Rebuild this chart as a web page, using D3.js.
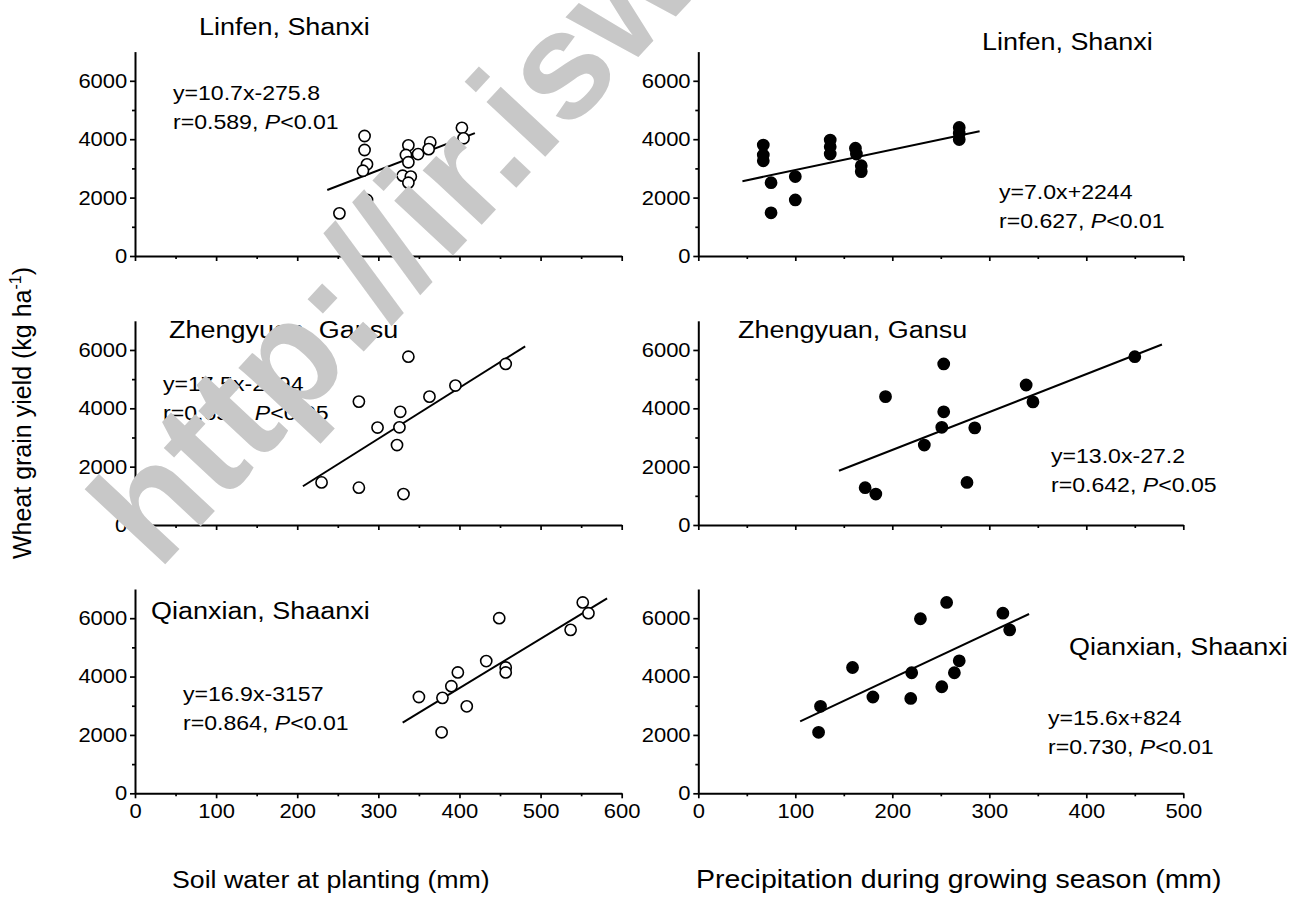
<!DOCTYPE html>
<html>
<head>
<meta charset="utf-8">
<script src="https://cdn.jsdelivr.net/npm/d3@7"></script>
<style>
  body { margin: 0; background: #fff; }
  svg { display: block; }
  text { font-family: "Liberation Sans", Arial, sans-serif; }
</style>
</head>
<body>
<svg id="chart" width="1303" height="897"></svg>
<script>
// ---- data: wheat grain yield (kg/ha) against soil water at planting and growing-season rain ----
const siteNames = ["Linfen, Shanxi", "Zhengyuan, Gansu", "Qianxian, Shaanxi"];

// Linfen, Shanxi
const linfenSoilWater = [252, 283, 283, 286, 281, 286, 337, 334, 337, 330, 340, 337, 349, 364, 362, 403, 405];
const linfenSoilYield = [1460, 4110, 3630, 3140, 2920, 1920, 3790, 3460, 3210, 2750, 2720, 2510, 3490, 3890, 3660, 4390, 4030];
const linfenRain      = [67, 67, 67, 75, 75, 100, 100, 136, 136, 136, 162, 163, 168, 168, 269, 269, 269];
const linfenRainYield = [3800, 3460, 3260, 2510, 1480, 2720, 1920, 3970, 3740, 3490, 3690, 3490, 3090, 2890, 4400, 4200, 3990];

// Zhengyuan, Gansu
const zhengSoilWater = [337, 457, 395, 363, 276, 327, 299, 326, 323, 230, 276, 331];
const zhengSoilYield = [5770, 5520, 4780, 4400, 4230, 3880, 3340, 3350, 2740, 1460, 1280, 1060];
const zhengRain      = [450, 338, 345, 253, 193, 253, 251, 285, 233, 277, 172, 183];
const zhengRainYield = [5770, 4800, 4220, 5520, 4400, 3880, 3350, 3330, 2740, 1460, 1280, 1060];

// Qianxian, Shaanxi
const qianSoilWater = [552, 559, 537, 449, 433, 457, 457, 398, 390, 350, 379, 409, 378];
const qianSoilYield = [6540, 6170, 5600, 6000, 4530, 4310, 4140, 4140, 3670, 3300, 3270, 2980, 2090];
const qianRain      = [256, 229, 314, 321, 159, 220, 269, 264, 251, 180, 219, 126, 124];
const qianRainYield = [6540, 5980, 6170, 5600, 4310, 4130, 4540, 4130, 3650, 3300, 3250, 2980, 2090];

// fitted regressions: slope, intercept, r, P label, x-extent of the drawn line
const fitSlope     = [10.7, 7.0, 17.5, 13.0, 16.9, 15.6];
const fitIntercept = [-275.8, 2244, -2294, -27.2, -3157, 824];
const fitEquation  = ["y=10.7x-275.8", "y=7.0x+2244", "y=17.5x-2294", "y=13.0x-27.2", "y=16.9x-3157", "y=15.6x+824"];
const fitR         = ["r=0.589, ", "r=0.627, ", "r=0.651, ", "r=0.642, ", "r=0.864, ", "r=0.730, "];
const fitP         = ["<0.01", "<0.01", "<0.05", "<0.05", "<0.01", "<0.01"];
const fitRange     = [[237, 419], [45.5, 290], [207, 481], [145, 478], [330, 582], [105, 341]];

// axis ticks
const soilTicks   = [0, 100, 200, 300, 400, 500, 600];
const rainTicks   = [0, 100, 200, 300, 400, 500];
const yieldTicks  = [0, 2000, 4000, 6000];
const yieldMax    = 7000;

// ---- layout ----
const SX = 1.1;                      // slight horizontal stretch of lettering
const colX = [[135, 621.7], [698.3, 1183.3]];
const rowY = [[256, 51.6], [525, 320.8], [793.3, 589]];
const titlePos = [[199, 35], [982, 50], [169, 338], [738, 338], [151, 619], [1069, 655]];
const eqPos    = [[173, 100], [999, 199], [163, 391], [1051, 463], [183, 701], [1048, 725]];

const svg = d3.select("#chart");

const panelData = [
  [linfenSoilWater, linfenSoilYield], [linfenRain, linfenRainYield],
  [zhengSoilWater, zhengSoilYield],   [zhengRain, zhengRainYield],
  [qianSoilWater, qianSoilYield],     [qianRain, qianRainYield]
];

function stretchText(sel) {
  sel.attr("transform", `scale(${SX},1)`);
}

panelData.forEach(([xs, ys], i) => {
  const row = Math.floor(i / 2), col = i % 2;
  const ticks = col === 0 ? soilTicks : rainTicks;
  const xMax = ticks[ticks.length - 1];
  const x = d3.scaleLinear().domain([0, xMax]).range(colX[col]);
  const y = d3.scaleLinear().domain([0, yieldMax]).range(rowY[row]);
  const g = svg.append("g");

  const step = ticks[1] - ticks[0];
  const xMinor = d3.range(step / 2, xMax, step);
  const yMinor = d3.range(1000, yieldMax, 2000);

  // minor ticks
  g.append("g").attr("transform", `translate(0,${rowY[row][0]})`)
    .call(d3.axisBottom(x).tickValues(xMinor).tickSize(3).tickSizeOuter(0).tickFormat(""))
    .call(a => a.select(".domain").remove());
  g.append("g").attr("transform", `translate(${colX[col][0]},0)`)
    .call(d3.axisLeft(y).tickValues(yMinor).tickSize(3).tickSizeOuter(0).tickFormat(""))
    .call(a => a.select(".domain").remove());

  // major axes
  const xAxis = g.append("g").attr("transform", `translate(0,${rowY[row][0]})`)
    .call(d3.axisBottom(x).tickValues(ticks).tickSize(5).tickPadding(6).tickSizeOuter(0)
      .tickFormat(row === 2 ? d3.format("d") : ""));
  const yAxis = g.append("g").attr("transform", `translate(${colX[col][0]},0)`)
    .call(d3.axisLeft(y).tickValues(yieldTicks).tickSize(5).tickPadding(2).tickSizeOuter(0)
      .tickFormat(d3.format("d")));

  [xAxis, yAxis].forEach(a => {
    a.selectAll("text").attr("font-size", 20).attr("fill", "#000")
      .style("font-family", '"Liberation Sans", Arial, sans-serif').call(stretchText);
    a.select(".domain").attr("stroke", "#000").attr("stroke-width", 2);
  });
  g.selectAll(".tick line").attr("stroke", "#000").attr("stroke-width", 1.7);

  // regression line
  const [x0, x1] = fitRange[i];
  g.append("path")
    .attr("d", d3.line().x(d => x(d)).y(d => y(fitSlope[i] * d + fitIntercept[i]))([x0, x1]))
    .attr("stroke", "#000").attr("stroke-width", 2).attr("fill", "none");

  // points
  g.selectAll("circle").data(xs.map((v, k) => [v, ys[k]])).join("circle")
    .attr("cx", d => x(d[0])).attr("cy", d => y(d[1])).attr("r", 5.6)
    .attr("fill", col === 0 ? "#fff" : "#000")
    .attr("stroke", "#000").attr("stroke-width", 1.6);

  // site title
  g.append("text")
    .attr("transform", `translate(${titlePos[i][0]},${titlePos[i][1]}) scale(${SX},1)`)
    .attr("font-size", 24.5).attr("fill", "#000").text(siteNames[row]);

  // regression equation and statistics
  g.append("text")
    .attr("transform", `translate(${eqPos[i][0]},${eqPos[i][1]}) scale(${SX},1)`)
    .attr("font-size", 21).attr("fill", "#000").text(fitEquation[i]);
  const t2 = g.append("text")
    .attr("transform", `translate(${eqPos[i][0]},${eqPos[i][1] + 29}) scale(${SX},1)`)
    .attr("font-size", 21).attr("fill", "#000");
  t2.append("tspan").text(fitR[i]);
  t2.append("tspan").attr("font-style", "italic").text("P");
  t2.append("tspan").text(fitP[i]);
});

// axis titles
svg.append("text")
  .attr("transform", `translate(172,888) scale(${SX},1)`)
  .attr("font-size", 24.3).attr("fill", "#000").text("Soil water at planting (mm)");
svg.append("text")
  .attr("transform", `translate(696,888) scale(${SX},1)`)
  .attr("font-size", 25.9).attr("fill", "#000").text("Precipitation during growing season (mm)");

const yt = svg.append("text")
  .attr("transform", `translate(31,413) rotate(-90) scale(1,1.05)`)
  .attr("text-anchor", "middle").attr("font-size", 25).attr("fill", "#000");
yt.append("tspan").text("Wheat grain yield (kg ha");
yt.append("tspan").attr("font-size", 16).attr("dy", -10).text("-1");
yt.append("tspan").attr("dy", 10).text(")");

// repository stamp across the upper-left of the figure
svg.append("text")
  .attr("transform", "translate(158,572) rotate(-47)")
  .attr("font-size", 152).attr("font-weight", "bold").attr("fill", "#c8c8c8")
  .text("http://ir.iswc.ac.cn");
</script>
</body>
</html>
